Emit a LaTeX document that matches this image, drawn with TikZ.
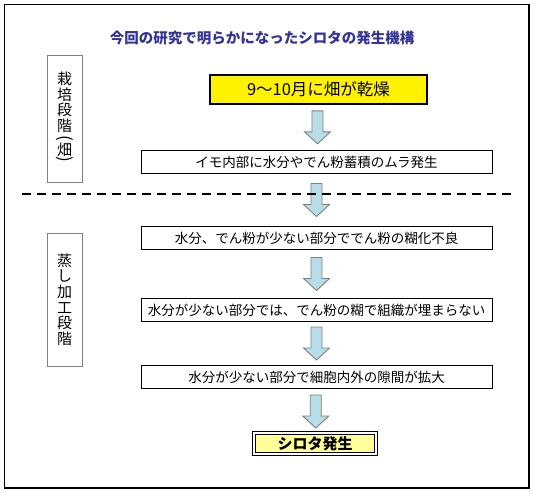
\documentclass[tikz,border=0pt]{standalone}
\usepackage{fontspec}
\setmainfont{Noto Sans CJK JP}
\usetikzlibrary{calc}
\definecolor{TitleBlue}{HTML}{333399}
\definecolor{ArrowFill}{HTML}{B7DDE8}
\definecolor{ArrowLine}{HTML}{808080}
\definecolor{StageLine}{HTML}{808080}
\definecolor{EndFill}{HTML}{FFFF99}
\tikzset{
  flowarrow/.style={draw=ArrowLine, fill=ArrowFill, line width=0.9pt, line join=miter},
  cause/.style={draw=black, fill=white, line width=0.9pt, minimum width=351pt,
                minimum height=23pt, inner sep=0pt, font=\fontsize{13.5}{15}\selectfont},
  trigger/.style={draw=black, fill=yellow, line width=1.2pt, minimum width=217pt,
                minimum height=29pt, inner sep=0pt, font=\fontsize{16.5}{18}\selectfont},
  result/.style={draw=black, fill=EndFill, line width=0.8pt, minimum width=119pt,
                minimum height=18pt, inner sep=0pt, font=\fontsize{15}{17}\selectfont\bfseries},
  phase/.style={draw=StageLine, fill=white, line width=0.9pt, minimum width=35pt,
                inner sep=0pt, align=center, font=\fontsize{15}{15.6}\selectfont},
}
% block arrow centred between two stacked nodes
\newcommand{\blockflow}[2]{%
  \draw[flowarrow] let \p1=($(#1.south)!0.5!(#2.north)$) in
    (\x1-5.5pt,\y1+16.5pt) -- (\x1+5.5pt,\y1+16.5pt) -- (\x1+5.5pt,\y1-4.5pt)
    -- (\x1+13pt,\y1-4.5pt) -- (\x1,\y1-16.5pt) -- (\x1-13pt,\y1-4.5pt)
    -- (\x1-5.5pt,\y1-4.5pt) -- cycle;}
% parenthesis turned for vertical writing
\newcommand{\vparen}[1]{\rotatebox[origin=c]{-90}{\fontsize{17}{17}\selectfont #1}}

\begin{document}
\begin{tikzpicture}[x=1pt,y=-1pt]
    \useasboundingbox (0,0) rectangle (534,493);
    \draw[line width=1.4pt] (4.5,4.5) rectangle (529,488);
    \node[text=TitleBlue,font=\fontsize{14.5}{16}\selectfont\bfseries] (title) at (262,38)
      {今回の研究で明らかになったシロタの発生機構};
    % stages on the left
    \node[phase,minimum height=127pt] (field) at (64.5,118.5)
      {栽\\培\\段\\階\\[-3pt]\vparen{(}\\[-4pt]畑\\[-6pt]\vparen{)}};
    \node[phase,minimum height=133pt] (steam) at (64.5,299.5) {蒸\\し\\加\\工\\段\\階};
    % chain of causes
    \node[trigger] (dry) at (318.5,89.5) {9～10月に畑が乾燥};
    \node[cause] (uneven) at (316.5,162) {イモ内部に水分やでん粉蓄積のムラ発生};
    \node[cause] (gel) at (316.5,238) {水分、でん粉が少ない部分ででん粉の糊化不良};
    \node[cause] (fill) at (316.5,310) {水分が少ない部分では、でん粉の糊で組織が埋まらない};
    \node[cause] (gap) at (316.5,377) {水分が少ない部分で細胞内外の隙間が拡大};
    \node[result] (shirota) at (315,443.5) {シロタ発生};
    \draw[line width=0.8pt] ($(shirota.south west)+(-2.5pt,-2.5pt)$)
      rectangle ($(shirota.north east)+(2.5pt,2.5pt)$);
    \blockflow{dry}{uneven}
    \blockflow{uneven}{gel}
    \blockflow{gel}{fill}
    \blockflow{fill}{gap}
    \blockflow{gap}{shirota}
    \draw[line width=1.5pt,dash pattern=on 9pt off 6pt] (22,194) -- (515,194);
  \end{tikzpicture}
\end{document}
